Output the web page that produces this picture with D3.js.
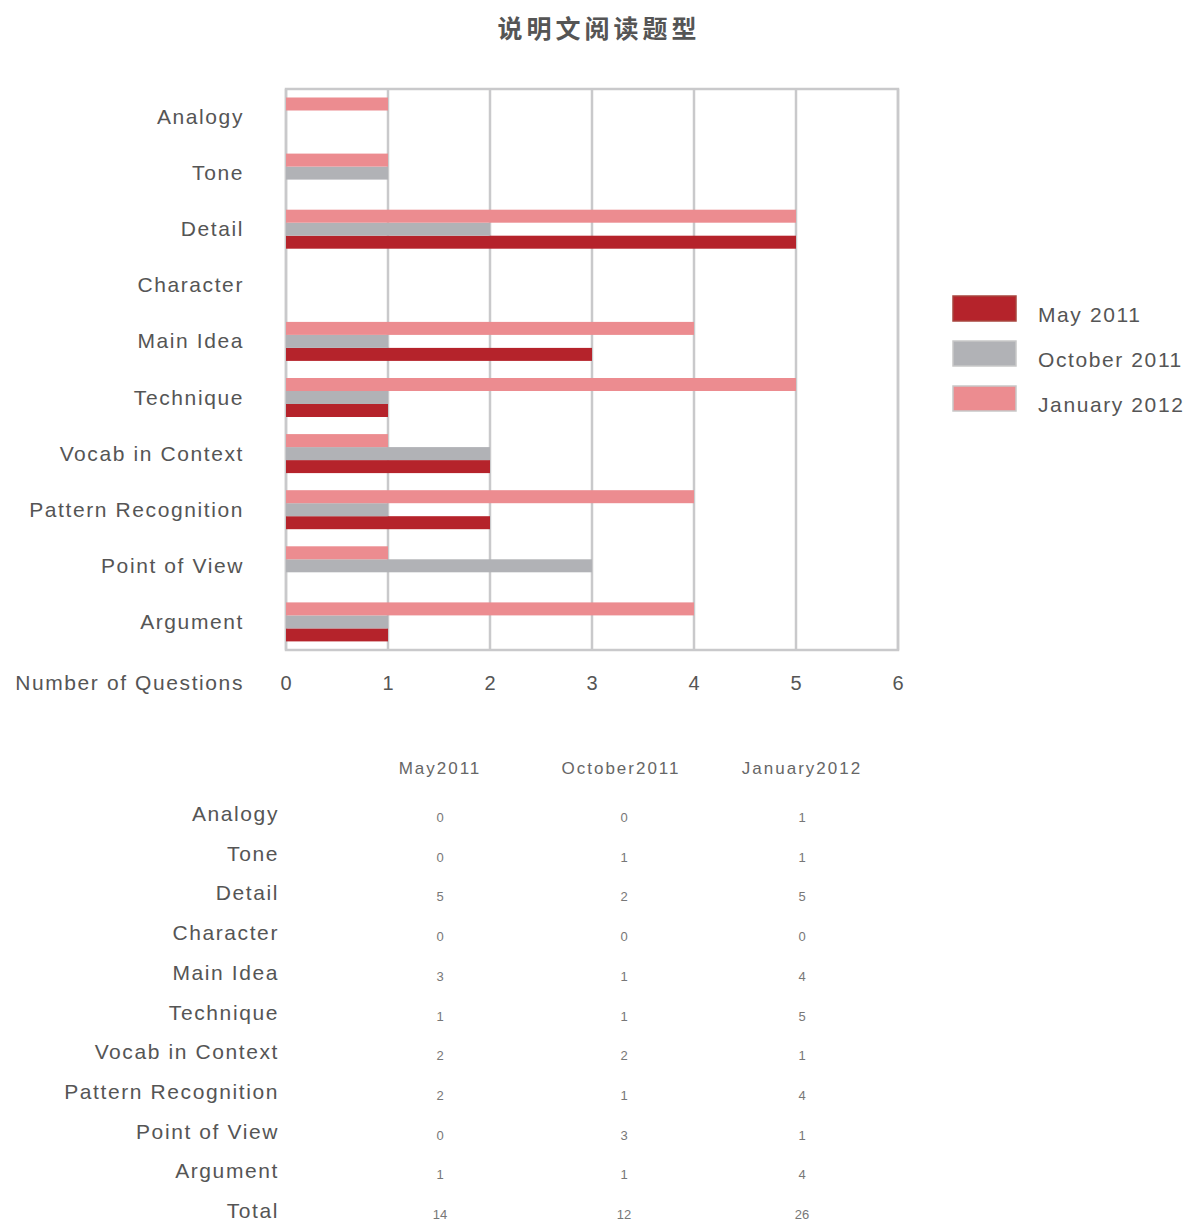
<!DOCTYPE html>
<meta charset="utf-8">
<style>
body { margin: 0; background: #fff; }
text { font-family: "Liberation Sans", Arial, sans-serif; fill: #555; }
.title { font: bold 25px "Noto Sans CJK SC", sans-serif; fill: #555; letter-spacing: 4px; }
.cat { font-size: 21px; letter-spacing: 1.6px; }
.tick-lab { font-size: 20px; }
.head { font-size: 17px; fill: #666; letter-spacing: 2px; }
.cell { font-size: 13px; fill: #777; }
</style>
<svg width="1185" height="1222"></svg>
<script src="https://d3js.org/d3.v7.min.js"></script>
<script>

// data
var categories = ["Analogy", "Tone", "Detail", "Character", "Main Idea", "Technique",
  "Vocab in Context", "Pattern Recognition", "Point of View", "Argument"];
var may2011 = [0, 0, 5, 0, 3, 1, 2, 2, 0, 1];
var oct2011 = [0, 1, 2, 0, 1, 1, 2, 1, 3, 1];
var jan2012 = [1, 1, 5, 0, 4, 5, 1, 4, 1, 4];
var seriesNames = ["May 2011", "October 2011", "January 2012"];
var tableHeads = ["May2011", "October2011", "January2012"];
var xTicks = [0, 1, 2, 3, 4, 5, 6];
var colors = ["#b5232b", "#b1b2b6", "#ec8c90"];

var svg = d3.select("svg");
var series = [may2011, oct2011, jan2012];

svg.append("text").attr("class", "title")
  .attr("x", 599).attr("y", 38).attr("text-anchor", "middle")
  .text("说明文阅读题型");

var x = d3.scaleLinear().domain([0, 6]).range([286, 898]);
var y = d3.scaleBand().domain(categories).range([89, 650]);
// January on top, then October, May at the bottom of each group
var ySub = d3.scaleBand().domain([2, 1, 0]).range([8.5, 47.5]);

var g = svg.append("g");

// gridlines
g.selectAll(".grid").data(xTicks).enter().append("line")
  .attr("x1", function(d) { return x(d); })
  .attr("x2", function(d) { return x(d); })
  .attr("y1", 89).attr("y2", 650)
  .attr("stroke", "#c9c9cb").attr("stroke-width", 2.5);

g.append("rect")
  .attr("x", x(0)).attr("y", 89)
  .attr("width", x(6) - x(0)).attr("height", 561)
  .attr("fill", "none").attr("stroke", "#c9c9cb").attr("stroke-width", 2.5);

// bars
series.forEach(function(vals, s) {
  g.selectAll(".bar" + s).data(vals).enter().append("rect")
    .attr("x", x(0))
    .attr("y", function(d, i) { return y(categories[i]) + ySub(s); })
    .attr("width", function(d) { return x(d) - x(0); })
    .attr("height", ySub.bandwidth())
    .attr("fill", colors[s]);
});

// category labels
svg.selectAll(".cat-l").data(categories).enter().append("text")
  .attr("class", "cat")
  .attr("x", 244).attr("text-anchor", "end")
  .attr("y", function(d) { return y(d) + y.bandwidth() / 2 + 7; })
  .text(function(d) { return d; });

// x ticks
svg.selectAll(".xt").data(xTicks).enter().append("text")
  .attr("class", "tick-lab")
  .attr("x", function(d) { return x(d); }).attr("y", 690)
  .attr("text-anchor", "middle")
  .text(function(d) { return d; });

svg.append("text").attr("class", "cat")
  .attr("x", 244).attr("y", 690).attr("text-anchor", "end")
  .text("Number of Questions");

// legend
var leg = svg.append("g");
seriesNames.forEach(function(name, i) {
  leg.append("rect").attr("x", 953).attr("y", 296 + i * 45)
    .attr("width", 63).attr("height", 25).attr("fill", colors[i])
    .attr("stroke", i === 0 ? "#a8463f" : "#c8c8c8").attr("stroke-width", 1.5);
  leg.append("text").attr("class", "cat")
    .attr("x", 1038).attr("y", 322 + i * 45).text(name);
});

// table
var rows = categories.concat(["Total"]);
var totals = series.map(function(v) { return d3.sum(v); });
var ty = d3.scalePoint().domain(rows).range([814, 1211]);
var tx = d3.scalePoint().domain([0, 1, 2]).range([440, 802]);

var tbl = svg.append("g");
tbl.selectAll(".head").data(tableHeads).enter().append("text")
  .attr("class", "head")
  .attr("x", function(d, i) { return tx(i); }).attr("y", 774)
  .attr("text-anchor", "middle").text(function(d) { return d; });

tbl.selectAll(".rl").data(rows).enter().append("text")
  .attr("class", "cat")
  .attr("x", 279).attr("text-anchor", "end")
  .attr("y", function(d) { return ty(d) + 7; })
  .text(function(d) { return d; });

series.forEach(function(vals, s) {
  var col = vals.concat([totals[s]]);
  tbl.selectAll(".c" + s).data(col).enter().append("text")
    .attr("class", "cell")
    .attr("x", tx(s) + (s === 1 ? 3 : 0))
    .attr("y", function(d, i) { return ty(rows[i]) + 8; })
    .attr("text-anchor", "middle")
    .text(function(d) { return d; });
});

</script>
